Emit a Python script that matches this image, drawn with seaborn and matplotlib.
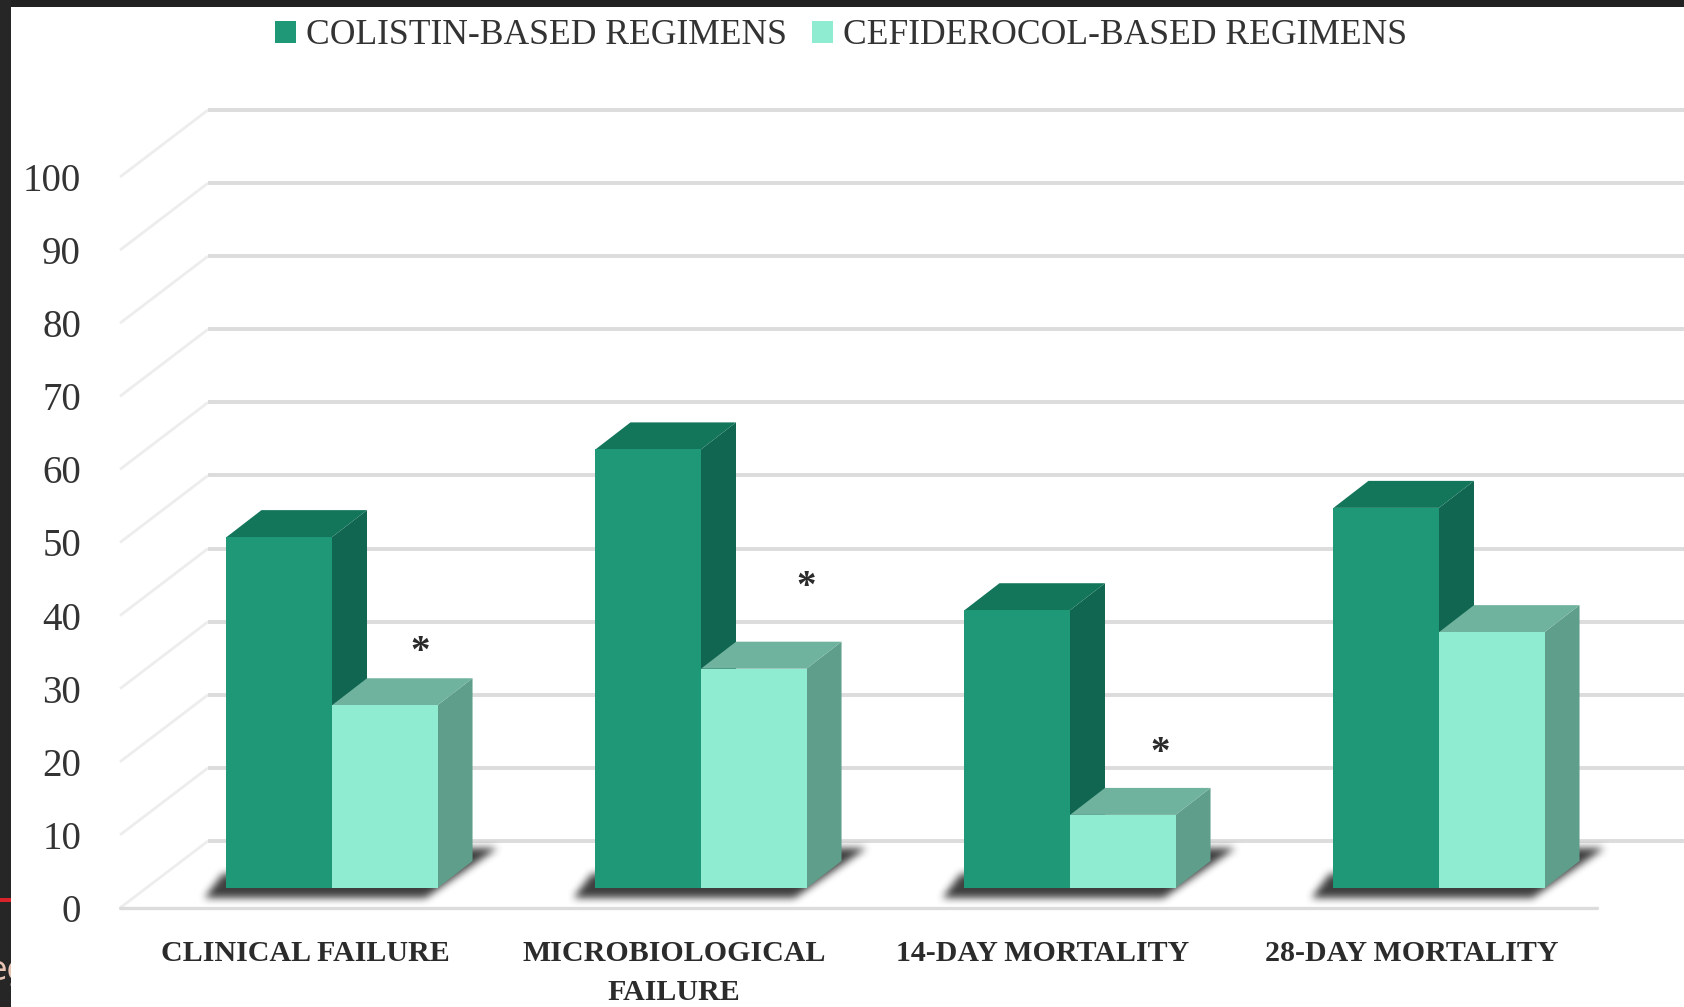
import numpy as np
import pandas as pd
import matplotlib
matplotlib.use("Agg")
import matplotlib.pyplot as plt
from matplotlib.patches import Polygon, Rectangle
from matplotlib.transforms import Affine2D
import seaborn as sns

# Outcome rates (%) per regimen
categories = ["CLINICAL FAILURE", "MICROBIOLOGICAL\nFAILURE", "14-DAY MORTALITY", "28-DAY MORTALITY"]
colistin = [48, 60, 38, 52]
cefiderocol = [25, 30, 10, 35]
series_names = ["COLISTIN-BASED REGIMENS", "CEFIDEROCOL-BASED REGIMENS"]
y_ticks = list(range(0, 101, 10))

# Significance markers: position along the category axis and height on the value axis
marker_x = [0.312, 1.359, 2.317]
marker_y = [35.0, 43.9, 21.2]

FRONT = ["#1E9877", "#90ECD1"]
TOP = ["#13765B", "#6FB29E"]
SIDE = ["#106650", "#5F9E8B"]
GRID = "#DCDCDC"
INK = "#2B2B2B"

W, H = 1684, 1007
DPI = 100
sns.set_theme(style="white")
plt.rcParams["font.family"] = ["Liberation Serif", "DejaVu Serif"]

fig = plt.figure(figsize=(W / DPI, H / DPI), dpi=DPI, facecolor="white")
AX_L, AX_R, AX_B, AX_T = 120, 1597, 908, 177
ax = fig.add_axes([AX_L / W, 1 - AX_B / H, (AX_R - AX_L) / W, (AX_B - AX_T) / H])

df = pd.DataFrame({
    "outcome": categories * 2,
    "regimen": [series_names[0]] * 4 + [series_names[1]] * 4,
    "rate": colistin + cefiderocol,
})
sns.barplot(data=df, x="outcome", y="rate", hue="regimen", order=categories,
            hue_order=series_names, palette=FRONT, width=0.572, gap=0,
            saturation=1, ax=ax, linewidth=0, zorder=6)

CAT_PX = 369.0
X0_PX = 305.0
ax.set_xlim((AX_L - X0_PX) / CAT_PX, (AX_R - X0_PX) / CAT_PX)
ax.set_ylim(0, 100)
PX_X = 1 / CAT_PX
PX_Y = 100 / (AX_B - AX_T)

# The bars stand a little way back from the front edge of the floor
BAR_SHIFT = (27, 20)
BAR_DEPTH = (35, 27)
WALL_DEPTH = (88, 67)


def at(x, y, dx=0, dy=0):
    return (x + dx * PX_X, y + dy * PX_Y)


def soften(radius):
    def _filter(image, dpi):
        pad = radius * 3
        out = np.pad(image, ((pad, pad), (pad, pad), (0, 0)))
        kernel = np.ones(2 * radius + 1) / (2 * radius + 1)
        alpha = out[:, :, 3]
        for _ in range(2):
            alpha = np.apply_along_axis(lambda r: np.convolve(r, kernel, mode="same"), 0, alpha)
            alpha = np.apply_along_axis(lambda r: np.convolve(r, kernel, mode="same"), 1, alpha)
        out[:, :, 0] = out[:, :, 1] = out[:, :, 2] = 0.25
        out[:, :, 3] = alpha
        return out, -pad, -pad
    return _filter


# Back wall and side wall grid lines
xmin, xmax = ax.get_xlim()
for v in y_ticks:
    sx, sy = at(xmin, v, WALL_DEPTH[0], WALL_DEPTH[1])
    ax.plot([xmin, sx], [v, sy], color="#EDEDED", lw=2.0, clip_on=False, zorder=1,
            solid_capstyle="butt")
    ax.plot([sx, at(xmax, v, 200)[0]], [sy, sy], color=GRID, lw=2.8, clip_on=False, zorder=1,
            solid_capstyle="butt")
ax.plot([xmin, xmax], [0, 0], color=GRID, lw=2.4, clip_on=False, zorder=1)

dark_bars, light_bars = ax.containers[0], ax.containers[1]
bar_plane = ax.transData + Affine2D().translate(*BAR_SHIFT)


def draw_faces(bar, index):
    x0, x1 = bar.get_x(), bar.get_x() + bar.get_width()
    v = bar.get_height()
    ox, oy = BAR_SHIFT
    dx, dy = BAR_DEPTH
    top = [at(x0, v, ox, oy), at(x1, v, ox, oy), at(x1, v, ox + dx, oy + dy), at(x0, v, ox + dx, oy + dy)]
    side = [at(x1, 0, ox, oy), at(x1, v, ox, oy), at(x1, v, ox + dx, oy + dy), at(x1, 0, ox + dx, oy + dy)]
    z = 3 + index
    ax.add_patch(Polygon(side, closed=True, fc=SIDE[index], ec="none", clip_on=False, zorder=z))
    ax.add_patch(Polygon(top, closed=True, fc=TOP[index], ec="none", clip_on=False, zorder=z))
    bar.set_transform(bar_plane)
    bar.set_clip_on(False)
    bar.set_zorder(6)


for idx, group in enumerate((dark_bars, light_bars)):
    for bar in group:
        draw_faces(bar, idx)

# Soft ground shadow under each pair of bars
for dark, light in zip(dark_bars, light_bars):
    x0 = dark.get_x()
    x1 = light.get_x() + light.get_width()
    ox, oy = BAR_SHIFT
    outline = [at(x0, 0, ox - 22, oy - 10), at(x0, 0, ox - 4, oy + 14), at(x1, 0, ox + 30, oy + 40),
               at(x1, 0, ox + 60, oy + 40), at(x1, 0, ox - 12, oy - 10)]
    shadow = Polygon(outline, closed=True, fc="#404040", ec="none", clip_on=False, zorder=2)
    shadow.set_agg_filter(soften(4))
    shadow.set_rasterized(True)
    ax.add_patch(shadow)

# Significance markers above the cefiderocol bars
for mx, my in zip(marker_x, marker_y):
    ax.text(mx, my, "*", ha="center", va="center", fontsize=28, fontweight="bold",
            color=INK, zorder=7)

ax.set_xlabel("")
ax.set_ylabel("")
ax.set_yticks(y_ticks)
ax.set_yticklabels([str(v) for v in y_ticks], fontsize=28, color="#333333")
ax.set_xticks(range(len(categories)))
ax.set_xticklabels(categories, fontsize=21.6, fontweight="bold", color=INK, linespacing=1.56)
ax.tick_params(axis="y", length=0, pad=28)
ax.tick_params(axis="x", length=0, pad=23)
sns.despine(ax=ax, left=True, bottom=True)
ax.patch.set_alpha(0)

sns.move_legend(ax, "center", bbox_to_anchor=(841 / W, 1 - 36 / H), bbox_transform=fig.transFigure,
                ncol=2, title=None, frameon=False, fontsize=25.6, handlelength=0.6, handleheight=0.6,
                handletextpad=0.28, columnspacing=0.68, borderpad=0, labelcolor="#333333")

# Dark surround at the top and left edges of the page, with what shows through it
fig.add_artist(Rectangle((0, 1 - 7 / H), 1, 7 / H, transform=fig.transFigure, fc="#222222", ec="none", zorder=20))
fig.add_artist(Rectangle((0, 0), 11 / W, 1, transform=fig.transFigure, fc="#262626", ec="none", zorder=20))
fig.add_artist(Rectangle((0, 1 - 902 / H), 11 / W, 4 / H, transform=fig.transFigure, fc="#D8232A", ec="none", zorder=21))
corner = Rectangle((0, 0), 11 / W, 1, transform=fig.transFigure)
edge_text = fig.text(-14 / W, 1 - 980 / H, "eg", fontsize=24, color="#E8C4B4", zorder=21,
                     family="DejaVu Sans")
edge_text.set_clip_path(corner)

fig.savefig("out.png", dpi=DPI, facecolor="white")
